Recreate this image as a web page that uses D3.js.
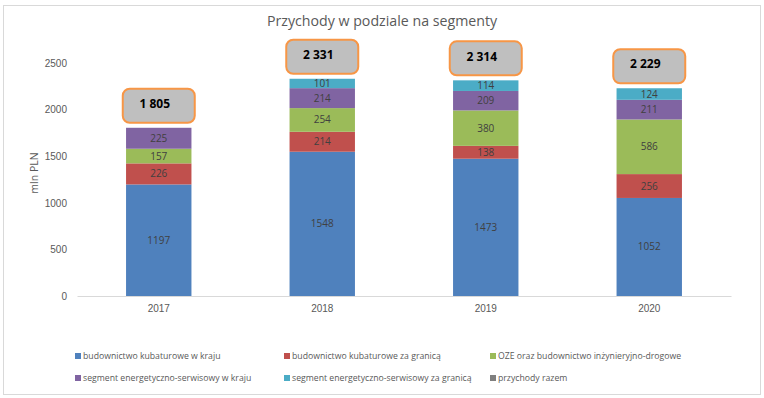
<!DOCTYPE html>
<html>
<head>
<meta charset="utf-8">
<script src="https://cdn.jsdelivr.net/npm/d3@7"></script>
<style>
  body { margin: 0; background: #fff; }
  svg { font-family: "Open Sans", "Liberation Sans", sans-serif; }
</style>
</head>
<body>
<div id="chart"></div>
<script>
// data
const years = ["2017", "2018", "2019", "2020"];
const seriesNames = [
    "budownictwo kubaturowe w kraju",
    "budownictwo kubaturowe za granicą",
    "OZE oraz budownictwo inżynieryjno-drogowe",
    "segment energetyczno-serwisowy w kraju",
    "segment energetyczno-serwisowy za granicą",
    "przychody razem"
];
const kubaturoweKraj = [1197, 1548, 1473, 1052];
const kubaturoweZagranica = [226, 214, 138, 256];
const ozeDrogowe = [157, 254, 380, 586];
const energetycznyKraj = [225, 214, 209, 211];
const energetycznyZagranica = [0, 101, 114, 124];
const przychodyRazem = [1805, 2331, 2314, 2229];
const yTicks = [0, 500, 1000, 1500, 2000, 2500];

const colors = ["#4F81BD", "#C0504D", "#9BBB59", "#8064A2", "#4BACC6", "#7F7F7F"];

const width = 764, height = 398;
const margin = { top: 63, right: 33, bottom: 102, left: 77 };
const innerWidth = width - margin.left - margin.right;
const innerHeight = height - margin.top - margin.bottom;

const svg = d3.select("#chart").append("svg")
    .attr("width", width)
    .attr("height", height);

// outer frame
svg.append("rect")
    .attr("x", 3.5).attr("y", 5.5)
    .attr("width", 757).attr("height", 389)
    .attr("fill", "#fff")
    .attr("stroke", "#D9D9D9");

svg.append("text")
    .attr("x", 382).attr("y", 26)
    .attr("text-anchor", "middle")
    .attr("font-size", "14.2px")
    .attr("fill", "#595959")
    .text("Przychody w podziale na segmenty");

const g = svg.append("g")
    .attr("transform", `translate(${margin.left}, ${margin.top})`);

// stack
const rows = years.map((yr, i) => ({
    year: yr,
    s0: kubaturoweKraj[i],
    s1: kubaturoweZagranica[i],
    s2: ozeDrogowe[i],
    s3: energetycznyKraj[i],
    s4: energetycznyZagranica[i]
}));
const keys = ["s0", "s1", "s2", "s3", "s4"];
const series = d3.stack().keys(keys)(rows);

const x = d3.scaleBand()
    .domain(years)
    .range([0, innerWidth])
    .paddingInner(0.6)
    .paddingOuter(0.3);

const y = d3.scaleLinear()
    .domain([0, 2500])
    .range([innerHeight, 0]);

// y axis (labels only)
const yAxis = d3.axisLeft(y).tickValues(yTicks).tickFormat(d3.format("d")).tickSize(0).tickPadding(10);
g.append("g")
    .call(yAxis)
    .call(a => a.select(".domain").remove())
    .selectAll("text")
    .attr("fill", "#595959")
    .style("font-size", "10px");

svg.append("text")
    .attr("transform", "translate(38, 173) rotate(-90)")
    .attr("text-anchor", "middle")
    .attr("font-size", "10.5px")
    .attr("fill", "#595959")
    .text("mln PLN");

// bars
const layers = g.selectAll("g.layer")
    .data(series)
    .join("g")
    .attr("class", "layer")
    .attr("fill", (d, i) => colors[i]);

layers.selectAll("rect")
    .data(d => d)
    .join("rect")
    .attr("x", d => x(d.data.year))
    .attr("y", d => y(d[1]))
    .attr("width", x.bandwidth())
    .attr("height", d => y(d[0]) - y(d[1]));

// segment value labels, drawn above every bar
const segLabels = series.flatMap(s => s.filter(p => p[1] - p[0] > 0));
g.append("g")
    .selectAll("text")
    .data(segLabels)
    .join("text")
    .attr("x", d => x(d.data.year) + x.bandwidth() / 2)
    .attr("y", d => (y(d[0]) + y(d[1])) / 2)
    .attr("dy", "0.35em")
    .attr("text-anchor", "middle")
    .attr("fill", "#404040")
    .attr("font-size", "10px")
    .text(d => d[1] - d[0]);

// x axis
g.append("g")
    .attr("transform", `translate(0, ${innerHeight})`)
    .call(d3.axisBottom(x).tickSize(0).tickPadding(9))
    .call(a => a.select(".domain").attr("stroke", "#D9D9D9"))
    .selectAll("text")
    .attr("fill", "#595959")
    .style("font-size", "10px");

// total labels
const boxW = 74, boxH = 36;
const totals = g.selectAll("g.total")
    .data(years.map((yr, i) => ({ year: yr, value: przychodyRazem[i] })))
    .join("g")
    .attr("class", "total")
    .attr("transform", d => `translate(${x(d.year) + x.bandwidth() / 2 - boxW / 2}, ${y(d.value) - 4 - boxH})`);

totals.append("rect")
    .attr("x", 1).attr("y", 1)
    .attr("width", boxW - 2).attr("height", boxH - 2)
    .attr("rx", 7)
    .attr("fill", "#BFBFBF")
    .attr("stroke", "#F79646")
    .attr("stroke-width", 2);

totals.append("text")
    .attr("x", boxW / 2 - 4)
    .attr("y", 16)
    .attr("dy", "0.35em")
    .attr("text-anchor", "middle")
    .attr("font-size", "12px")
    .attr("font-weight", "bold")
    .attr("fill", "#000")
    .text(d => d3.format(",")(d.value).replace(",", " "));

// legend
const legendCols = [75, 284, 490];
const legendRows = [356, 378];
const legend = svg.append("g")
    .selectAll("g")
    .data(seriesNames)
    .join("g")
    .attr("transform", (d, i) => `translate(${legendCols[i % 3]}, ${legendRows[Math.floor(i / 3)]})`);

legend.append("rect")
    .attr("x", 0).attr("y", -3)
    .attr("width", 6).attr("height", 6)
    .attr("fill", (d, i) => colors[i]);

legend.append("text")
    .attr("x", 8)
    .attr("dy", "0.35em")
    .attr("font-size", "8.7px")
    .attr("fill", "#595959")
    .text(d => d);
</script>
</body>
</html>
